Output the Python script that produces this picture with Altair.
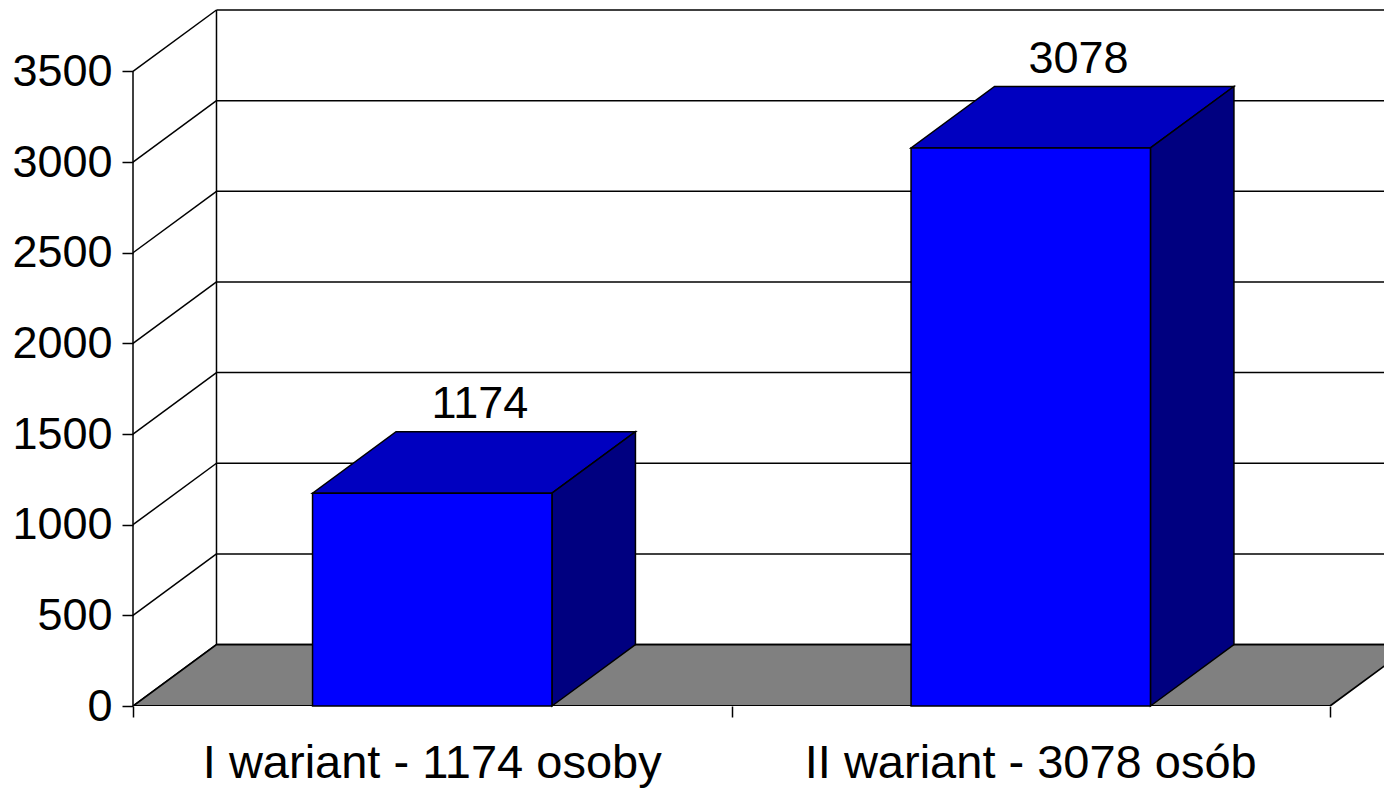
import altair as alt
import pandas as pd

# ---- data ----
categories = ["I wariant - 1174 osoby", "II wariant - 3078 osób"]
values = [1174, 3078]
value_labels = ["1174", "3078"]
y_ticks = [0, 500, 1000, 1500, 2000, 2500, 3000, 3500]
x_ticks = [0, 1, 2]

# ---- geometry / style ----
W, H = 1251, 696
PX_PER_CAT = 598.5
XMAX = W / PX_PER_CAT
BAR_W = 0.4
DX = 0.1395          # depth in category units
DY = 339             # depth in value units
YMAX = y_ticks[-1] + DY
FONT = "Liberation Sans"
FRONT, TOP, SIDE, FLOOR = "#0000FF", "#0000C0", "#000080", "#808080"

xs = alt.Scale(domain=[0, XMAX], nice=False, zero=False)
ys = alt.Scale(domain=[0, YMAX], nice=False, zero=False)
x_axis = alt.Axis(values=x_ticks, domain=False, grid=False, labels=False, ticks=True,
                  tickSize=11, tickColor="black", tickWidth=1.5, title=None)
y_axis = alt.Axis(values=y_ticks, domain=False, grid=False, ticks=True, tickSize=11,
                  tickColor="black", tickWidth=1.5, labelFontSize=45, labelFont=FONT,
                  labelColor="black", labelPadding=10, title=None, format="d")


def X(f):
    return alt.X(f, type="quantitative", scale=xs, axis=x_axis, title=None)


def Y(f):
    return alt.Y(f, type="quantitative", scale=ys, axis=y_axis, title=None, stack=None)


# back wall gridlines and left wall diagonals
grid_df = pd.DataFrame({
    "v": y_ticks,
    "x0": [0.0] * len(y_ticks),
    "xb": [DX] * len(y_ticks),
    "xe": [XMAX] * len(y_ticks),
    "yb": [v + DY for v in y_ticks],
})
back_grid = alt.Chart(grid_df).mark_rule(color="black", strokeWidth=1.5).encode(
    x=X("xb"), x2="xe", y=Y("yb"))
diag = alt.Chart(grid_df).mark_rule(color="black", strokeWidth=1.5).encode(
    x=X("x0"), x2="xb", y=Y("v"), y2="yb")
edge_df = pd.DataFrame({"x": [DX, 0.0], "y": [DY, 0], "y2": [YMAX, y_ticks[-1]]})
edges = alt.Chart(edge_df).mark_rule(color="black", strokeWidth=1.5).encode(
    x=X("x"), y=Y("y"), y2="y2")


def polygon(xv, yv, y2v, fill, width=1.5, clip=False):
    df = pd.DataFrame({"x": xv, "y": yv, "y2": y2v})
    return alt.Chart(df).mark_area(fill=fill, stroke="black", strokeWidth=width,
                                   orient="vertical", clip=clip, opacity=1).encode(
        x=X("x"), y=Y("y"), y2="y2")


# floor
n = len(categories)
floor = polygon([0, DX, n, n + DX], [0, 0, 0, DY], [0, DY, DY, DY], FLOOR, 1.8, clip=True)

# bars: top and side faces as polygons, front faces as rects
faces = []
for i, v in enumerate(values):
    x0 = i + 0.5 - BAR_W / 2
    x1 = i + 0.5 + BAR_W / 2
    faces.append(polygon([x0, x0 + DX, x1, x1 + DX], [v, v, v, v + DY],
                         [v, v + DY, v + DY, v + DY], TOP))
    faces.append(polygon([x1, x1 + DX], [0, DY], [v, v + DY], SIDE))

bar_df = pd.DataFrame({
    "cat": categories,
    "v": values,
    "lab": value_labels,
    "x0": [i + 0.5 - BAR_W / 2 for i in range(n)],
    "x1": [i + 0.5 + BAR_W / 2 for i in range(n)],
    "xc": [i + 0.5 for i in range(n)],
    "xl": [i + 0.5 + DX / 2 for i in range(n)],
    "yl": [v + DY for v in values],
    "zero": [0] * n,
})
fronts = alt.Chart(bar_df).mark_rect(fill=FRONT, stroke="black", strokeWidth=1.5).encode(
    x=X("x0"), x2="x1", y=Y("zero"), y2="v")

val_text = alt.Chart(bar_df).mark_text(fontSize=45, font=FONT, color="black",
                                        baseline="alphabetic", dx=6, dy=-14).encode(
    x=X("xl"), y=Y("yl"), text="lab:N")
cat_text = alt.Chart(bar_df).mark_text(fontSize=47, font=FONT, color="black",
                                        baseline="alphabetic", dy=72).encode(
    x=X("xc"), y=Y("zero"), text="cat:N")

chart = alt.layer(back_grid, diag, edges, floor, *faces, fronts, val_text, cat_text).properties(
    width=W, height=H,
    autosize=alt.AutoSizeParams(type="none"),
    padding={"left": 125, "top": 2, "right": 0, "bottom": 84},
    background="white",
).configure_view(stroke=None)

chart.save("out.html", embed_options={"renderer": "svg", "actions": False})
